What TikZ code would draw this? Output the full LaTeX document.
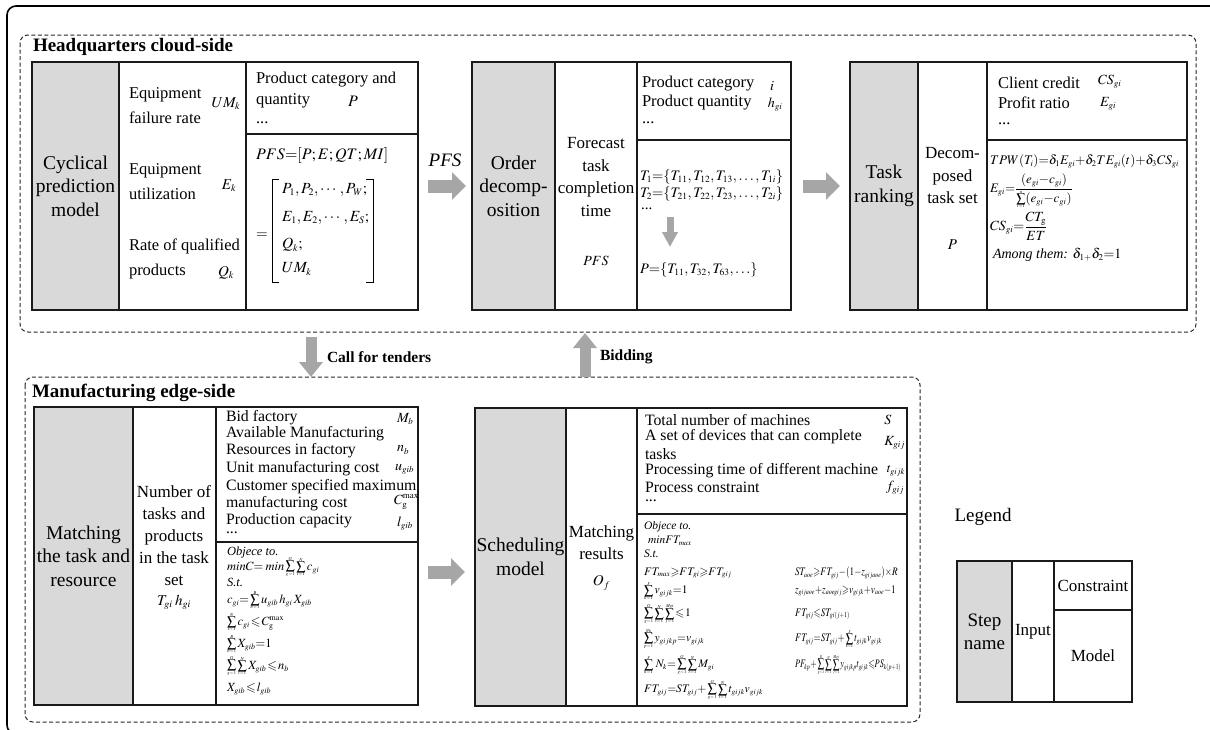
\documentclass[tikz,border=0pt]{standalone}
\usepackage{amsmath,amssymb}
\usepackage{mathptmx}
\usepackage{graphicx}
\usepackage[no-math]{fontspec}
\setmainfont{Liberation Serif}
\usetikzlibrary{arrows.meta}
\definecolor{graybox}{HTML}{D9D9D9}
\definecolor{arrowgray}{HTML}{A6A6A6}
\definecolor{lineblack}{HTML}{1A1A1A}
\DeclareMathSizes{10.5}{10.5}{6.5}{5}
\DeclareMathSizes{11.5}{11.5}{7.5}{5.5}
\DeclareMathSizes{12.5}{12.5}{8}{6}
\DeclareMathSizes{13}{13}{8.5}{6.5}
\DeclareMathSizes{13.2}{13.2}{8.5}{6.5}
\DeclareMathSizes{14}{14}{9}{7}
\DeclareMathSizes{14.5}{14.5}{9.5}{7}
\DeclareMathSizes{15}{15}{10}{7.5}
\DeclareMathSizes{15.5}{15.5}{10}{7.5}
\DeclareMathSizes{16}{16}{10.5}{8}
\newcommand\fz[2]{\fontsize{#1pt}{#2pt}\selectfont}
\newcommand\SSum[2]{\mathop{\vcenter{\offinterlineskip\halign{\hfil##\hfil\cr
 \hbox{\fontsize{4.5pt}{5pt}\selectfont$#2$}\cr\noalign{\kern0.2pt}
 \hbox{\fontsize{13pt}{13pt}\selectfont$\sum$}\cr\noalign{\kern0.2pt}
 \hbox{\fontsize{4.5pt}{5pt}\selectfont$#1$}\cr}}}}
\newcommand\nx[1]{\scalebox{0.8}[1]{#1}}
\thickmuskip=1.5mu
\medmuskip=1mu
\tikzset{
 cbox/.style={draw=lineblack,line width=1.2pt,anchor=north west,inner sep=0pt},
 gcol/.style={cbox,fill=graybox,align=center,font=\fz{19.5}{23.5}},
 wcol/.style={cbox,fill=white},
 ltxt/.style={anchor=west,align=left},
 itxt/.style={font=\fz{17}{22.5},align=center},
 ctx/.style={anchor=west,font=\fz{16.5}{20}},
 btx/.style={anchor=west,font=\fz{15.8}{18}},
 eqa/.style={anchor=west,font=\fz{12.5}{14}},
 eqb/.style={anchor=west,font=\fz{11.5}{13}},
 eqc/.style={anchor=west,font=\fz{11.5}{13}},
 vtx/.style={font=\fz{15}{17}},
 dbox/.style={draw=black!85,line width=1pt,dash pattern=on 4pt off 2.5pt,rounded corners=8pt},
 bigarr/.style={draw=arrowgray,line width=13pt,-{Triangle[width=27pt,length=14pt]}},
 varr/.style={draw=arrowgray,line width=11pt,-{Triangle[width=23pt,length=15pt]}},
 smarr/.style={draw=arrowgray,line width=7pt,-{Triangle[width=15pt,length=15pt]}},
 ttl/.style={anchor=west,font=\bfseries\fz{19}{22}},
}
\begin{document}
\begin{tikzpicture}[x=1pt,y=-1pt,every node/.style={inner sep=0pt,outer sep=0pt}]
\useasboundingbox (0,0) rectangle (1210,729);
% frames
\draw[line width=1.6pt,rounded corners=9pt] (7,6) rectangle (1240,734);
\draw[dbox] (20,35) rectangle (1196,332);
\draw[dbox] (25,377) rectangle (920,722);
\node[ttl] (hq) at (33,47) {Headquarters cloud-side};
\node[ttl] (me) at (32,393) {Manufacturing edge-side};

% ---------- Box 1 ----------
\node[cbox,minimum width=386pt,minimum height=248pt] (b1) at (32,62) {};
\node[gcol,minimum width=87pt,minimum height=248pt] (b1g) at (32,62) {Cyclical\\prediction\\model};
\node[wcol,minimum width=127pt,minimum height=248pt] (b1i) at (119,62) {};
\node[wcol,minimum width=172pt,minimum height=72pt] (b1c) at (246,62) {};
\node[wcol,minimum width=172pt,minimum height=176pt] (b1m) at (246,134) {};
\node[ltxt,font=\fz{16.5}{25}] (b1i1) at (129,105.5) {Equipment\\failure rate};
\node[vtx] (b1v1) at (226,104) {$UM_k$};
\node[ltxt,font=\fz{16.5}{25}] (b1i2) at (129,182) {Equipment\\utilization};
\node[vtx] (b1v2) at (229,186) {$E_k$};
\node[ltxt,font=\fz{16.5}{25}] (b1i3) at (129,258.5) {Rate of qualified\\products};
\node[vtx] (b1v3) at (226,273) {$Q_k$};
\node[ltxt,font=\fz{16.5}{21}] (b1c1) at (256,90.5) {Product category and\\quantity};
\node[vtx,font=\fz{16}{18}] (b1v4) at (353,101) {$P$};
\node[ctx] (b1c2) at (256,123) {...};
\node[anchor=west,font=\fz{16}{18}] (b1m1) at (256,155) {$PFS{=}[P;E;QT;MI]$};
\node[font=\fz{15}{18}] (b1eq) at (262,236) {$=$};
\draw[line width=1pt] (279,179) -- (272,179) -- (272,282) -- (279,282);
\draw[line width=1pt] (366,179) -- (373,179) -- (373,282) -- (366,282);
\node[anchor=west,font=\fz{15.5}{19}] (b1r1) at (282,190) {$P_1,P_2,\cdots,P_W;$};
\node[anchor=west,font=\fz{15.5}{19}] (b1r2) at (282,218) {$E_1,E_2,\cdots,E_S;$};
\node[anchor=west,font=\fz{15.5}{19}] (b1r3) at (282,245) {$Q_k;$};
\node[anchor=west,font=\fz{15.5}{19}] (b1r4) at (282,269) {$UM_k$};
\node[font=\itshape\fz{19}{22}] (pfs) at (445,160) {PFS};

% ---------- Box 2 ----------
\node[cbox,minimum width=319pt,minimum height=248pt] (b2) at (472,62) {};
\node[gcol,minimum width=83pt,minimum height=248pt] (b2g) at (472,62) {Order\\decomp-\\osition};
\node[wcol,minimum width=82pt,minimum height=248pt] (b2i) at (555,62) {};
\node[wcol,minimum width=154pt,minimum height=78pt] (b2c) at (637,62) {};
\node[wcol,minimum width=154pt,minimum height=170pt] (b2m) at (637,140) {};
\node[itxt] (b2i1) at (596,177) {Forecast\\task\\completion\\time};
\node[font=\fz{14}{16}] (b2i2) at (596,261) {$PFS$};
\node[ctx] (b2c1) at (642,84) {Product category};
\node[font=\fz{14}{16}] (b2v1) at (772,86) {$i$};
\node[ctx] (b2c2) at (642,103) {Product quantity};
\node[font=\fz{14}{16}] (b2v2) at (775,105) {$h_{gi}$};
\node[ctx] (b2c3) at (642,123) {...};
\node[anchor=west,font=\fz{14.5}{17}] (b2m1) at (640,177) {$T_1{=}\{T_{11},T_{12},T_{13},\ldots,T_{1i}\}$};
\node[anchor=west,font=\fz{14.5}{17}] (b2m2) at (640,194) {$T_2{=}\{T_{21},T_{22},T_{23},\ldots,T_{2i}\}$};
\node[ctx,font=\fz{15}{17}] (b2m3) at (641,209) {...};
\coordinate (da1) at (670,217);
\coordinate (da2) at (670,247);
\draw[smarr] (da1) -- (da2);
\node[anchor=west,font=\fz{14.5}{17}] (b2m4) at (640,270) {$P{=}\{T_{11},T_{32},T_{63},\ldots\}$};

% ---------- Box 3 ----------
\node[cbox,minimum width=337pt,minimum height=248pt] (b3) at (850,62) {};
\node[gcol,minimum width=68pt,minimum height=248pt] (b3g) at (850,62) {Task\\ranking};
\node[wcol,minimum width=69pt,minimum height=248pt] (b3i) at (918,62) {};
\node[wcol,minimum width=200pt,minimum height=78pt] (b3c) at (987,62) {};
\node[wcol,minimum width=200pt,minimum height=170pt] (b3m) at (987,140) {};
\node[itxt] (b3i1) at (952.5,176) {Decom-\\posed\\task set};
\node[font=\fz{15}{17}] (b3i2) at (952.5,245) {$P$};
\node[ctx] (b3c1) at (998,83) {Client credit};
\node[anchor=west,font=\fz{14}{16}] (b3v1) at (1098,82) {$CS_{gi}$};
\node[ctx] (b3c2) at (998,103) {Profit ratio};
\node[anchor=west,font=\fz{14}{16}] (b3v2) at (1100,104) {$E_{gi}$};
\node[ctx] (b3c3) at (998,124) {...};
\node[anchor=west,font=\fz{13.2}{15}] (b3m1) at (990,161) {$TPW(T_i){=}\delta_1E_{gi}{+}\delta_2TE_{gi}(t){+}\delta_3CS_{gi}$};
\node[anchor=west,font=\fz{13}{15}] (b3m2) at (990,191) {$E_{gi}{=}\dfrac{(e_{gi}{-}c_{gi})}{\SSum{i=1}{n}(e_{gi}{-}c_{gi})}$};
\node[anchor=west,font=\fz{14}{16}] (b3m3) at (990,226) {$CS_{gi}{=}\dfrac{CT_{\mathrm{g}}}{ET}$};
\node[anchor=west,font=\itshape\fz{14}{16}] (b3m4) at (993,255) {Among them: $\delta_{1{+}}\delta_2{=}1$};

% ---------- Box 4 ----------
\node[cbox,minimum width=384pt,minimum height=298pt] (b4) at (34,407) {};
\node[gcol,minimum width=99pt,minimum height=298pt] (b4g) at (34,407) {Matching\\the task and\\resource};
\node[wcol,minimum width=83pt,minimum height=298pt] (b4i) at (133,407) {};
\node[wcol,minimum width=202pt,minimum height=135pt] (b4c) at (216,407) {};
\node[wcol,minimum width=202pt,minimum height=163pt] (b4m) at (216,542) {};
\node[itxt,font=\fz{17}{22}] (b4i1) at (174,536) {Number of\\tasks and\\products\\in the task\\set};
\node[vtx] (b4i2) at (174,602) {$T_{gi}\;\;h_{gi}$};
\node[btx] (b4c1) at (226,418) {Bid factory};
\node[btx] (b4c2) at (226,434) {Available Manufacturing};
\node[btx] (b4c3) at (226,451) {Resources in factory};
\node[btx] (b4c4) at (226,469) {Unit manufacturing cost};
\node[btx] (b4c5) at (226,487) {Customer specified maximum};
\node[btx] (b4c6) at (226,504) {manufacturing cost};
\node[btx] (b4c7) at (226,521) {Production capacity};
\node[btx] (b4c8) at (226,533) {...};
\node[anchor=west,font=\fz{14}{16}] (b4v1) at (397,419) {$M_b$};
\node[anchor=west,font=\fz{14}{16}] (b4v2) at (397,450) {$n_b$};
\node[anchor=west,font=\fz{14}{16}] (b4v3) at (395,469) {$u_{gib}$};
\node[anchor=west,font=\fz{14}{16}] (b4v4) at (394,502) {$C_{\mathrm{g}}^{\max}$};
\node[anchor=west,font=\fz{14}{16}] (b4v5) at (397,524) {$l_{gib}$};
\node[eqa] (b4m1) at (227,552) {\textit{Objece to.}};
\node[eqa] (b4m2) at (227,567) {$minC{=}\;\;min\SSum{g=1}{G}\SSum{i=1}{N}c_{gi}$};
\node[eqa] (b4m3) at (227,582) {\textit{S.t.}};
\node[eqa] (b4m4) at (227,600) {$c_{gi}{=}\SSum{b=1}{B}u_{gib}\,h_{gi}\,X_{gib}$};
\node[eqa] (b4m5) at (227,622) {$\SSum{i=1}{N}c_{gi}\leqslant C_{\mathrm{g}}^{\max}$};
\node[eqa] (b4m6) at (227,644) {$\SSum{b=1}{B}X_{gib}{=}1$};
\node[eqa] (b4m7) at (227,666) {$\SSum{g=1}{G}\SSum{i=1}{N}X_{gib}\leqslant n_b$};
\node[eqa] (b4m8) at (227,689) {$X_{gib}\leqslant l_{gib}$};

% ---------- Box 5 ----------
\node[cbox,minimum width=432pt,minimum height=298pt] (b5) at (475,408) {};
\node[gcol,minimum width=91pt,minimum height=298pt] (b5g) at (475,408) {Scheduling\\model};
\node[wcol,minimum width=71pt,minimum height=298pt] (b5i) at (566,408) {};
\node[wcol,minimum width=270pt,minimum height=106pt] (b5c) at (637,408) {};
\node[wcol,minimum width=270pt,minimum height=192pt] (b5m) at (637,514) {};
\node[itxt,font=\fz{17}{22}] (b5i1) at (601.5,543) {Matching\\results};
\node[vtx] (b5i2) at (601.5,583) {$O_f$};
\node[btx] (b5c1) at (645,420) {Total number of machines};
\node[btx] (b5c2) at (645,437) {A set of devices that can complete};
\node[btx] (b5c3) at (645,454) {tasks};
\node[btx] (b5c4) at (645,471) {Processing time of different machine};
\node[btx] (b5c5) at (645,487) {Process constraint};
\node[btx] (b5c6) at (645,501) {...};
\node[font=\fz{14}{16}] (b5v1) at (888,420) {$S$};
\node[anchor=east,font=\fz{14}{16}] (b5v2) at (905,443) {$K_{gij}$};
\node[anchor=east,font=\fz{13}{16}] (b5v3) at (905,471) {$t_{gijk}$};
\node[anchor=east,font=\fz{14}{16}] (b5v4) at (904,488) {$f_{gij}$};
\node[eqb] (b5m1) at (644,527) {\textit{Objece to.}};
\node[eqb] (b5m2) at (648,541) {$minFT_{max}$};
\node[eqb] (b5m3) at (644,554) {\textit{S.t.}};
\node[eqb] (b5m4) at (644,573) {$FT_{max}{\geqslant}FT_{gi}{\geqslant}FT_{gij}$};
\node[eqb] (b5m5) at (644,591) {$\SSum{k=1}{S}v_{gijk}{=}1$};
\node[eqb] (b5m6) at (644,614) {$\SSum{g=1}{G}\SSum{i=1}{N}\SSum{j=1}{Mgi}\leqslant 1$};
\node[eqb] (b5m7) at (644,639) {$\SSum{p=1}{Nk}y_{gijkp}{=}v_{gijk}$};
\node[eqb] (b5m8) at (644,665) {$\SSum{k=1}{S}\,N_k{=}\SSum{g=1}{G}\SSum{i=1}{N}M_{gi}$};
\node[eqb] (b5m9) at (644,690) {$FT_{gij}{=}ST_{gij}{+}\SSum{g=1}{G}\SSum{i=1}{N}t_{gijk}v_{gijk}$};
\node[eqc] (b5n1) at (795,573) {\nx{$ST_{aoe}{\geqslant}FT_{gij}{-}(1{-}z_{gijaoe}){\times}R$}};
\node[eqc] (b5n2) at (795,591) {\nx{$z_{gijaoe}{+}z_{aoegij}{\geqslant}v_{gijk}{+}v_{aoe}{-}1$}};
\node[eqc] (b5n3) at (795,614) {\nx{$FT_{gij}{\leqslant}ST_{gi(j+1)}$}};
\node[eqc] (b5n4) at (795,639) {\nx{$FT_{gij}{=}ST_{gij}{+}\SSum{k=1}{S}t_{gijk}v_{gijk}$}};
\node[eqc] (b5n5) at (795,665) {\scalebox{0.72}[1]{$PF_{kp}{+}\SSum{g=1}{G}\SSum{i=1}{N}\SSum{j=1}{Mgi}y_{gijkp}t_{gijk}{\leqslant}PS_{k(p+1)}$}};

% ---------- Legend ----------
\node[font=\fz{19}{22}] (lgt) at (983,517) {Legend};
\node[cbox,minimum width=175pt,minimum height=141pt] (lg) at (957,561) {};
\node[gcol,minimum width=55pt,minimum height=141pt,font=\fz{19}{23}] (lgg) at (957,561) {Step\\name};
\node[wcol,minimum width=42pt,minimum height=141pt,font=\fz{17}{20}] (lgi) at (1012,561) {Input};
\node[wcol,minimum width=78pt,minimum height=49pt,font=\fz{17}{20}] (lgc) at (1054,561) {Constraint};
\node[wcol,minimum width=78pt,minimum height=92pt,font=\fz{17}{20}] (lgm) at (1054,610) {Model};

% ---------- Arrows ----------
\draw[bigarr] ([xshift=10pt]b1.east) -- ([xshift=-6pt]b2.west);
\draw[bigarr] ([xshift=12pt]b2.east) -- ([xshift=-10pt]b3.west);
\draw[bigarr] ([xshift=10pt,yshift=-16pt]b4.east) -- ([xshift=-10pt,yshift=-15pt]b5.west);
\coordinate (ct1) at (311,337);
\coordinate (ct2) at (311,377);
\draw[varr] (ct1) -- (ct2);
\node[anchor=west,font=\bfseries\fz{15.5}{18}] (ctl) at (327,357) {Call for tenders};
\coordinate (bd1) at (585,377);
\coordinate (bd2) at (585,333);
\draw[varr] (bd1) -- (bd2);
\node[anchor=west,font=\bfseries\fz{15.5}{18}] (bdl) at (600,357) {Bidding};
\end{tikzpicture}
\end{document}
